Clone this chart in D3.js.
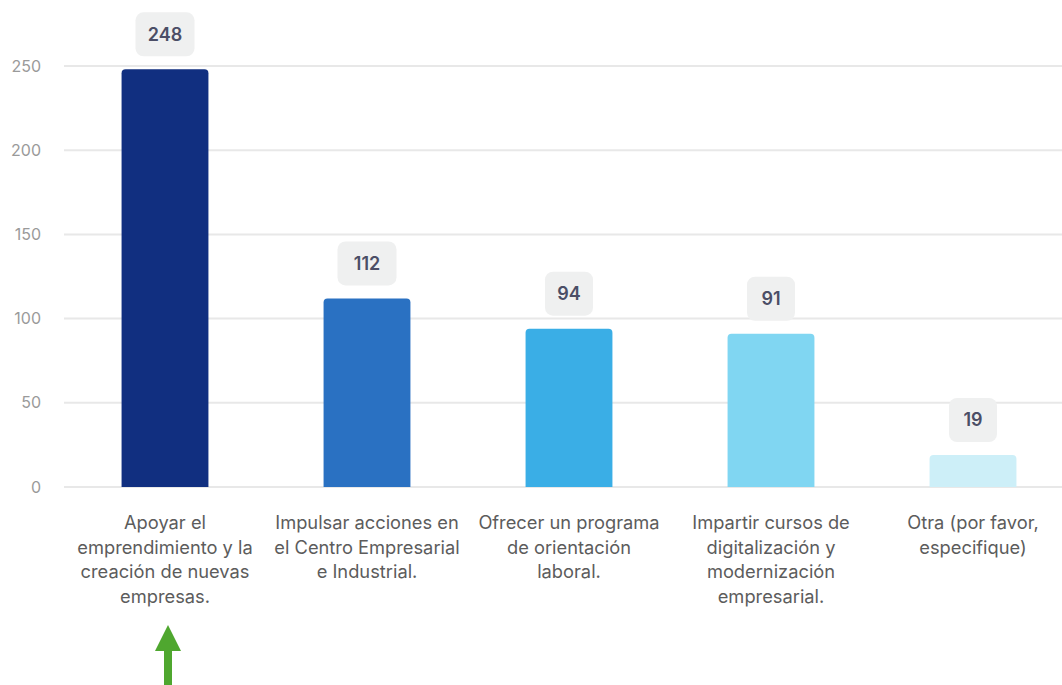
<!DOCTYPE html>
<html><head><meta charset="utf-8">
<script src="https://cdn.jsdelivr.net/npm/d3@7"></script>
<style>body{margin:0;background:#fff;}svg{display:block;font-family:Inter, "Noto Sans", sans-serif;}</style>
</head><body>
<svg id="c" width="1062" height="685"></svg>
<script>
const categories = ["Apoyar el emprendimiento y la creación de nuevas empresas.","Impulsar acciones en el Centro Empresarial e Industrial.","Ofrecer un programa de orientación laboral.","Impartir cursos de digitalización y modernización empresarial.","Otra (por favor, especifique)"];
const labelLines = [["Apoyar el","emprendimiento y la","creación de nuevas","empresas."],["Impulsar acciones en","el Centro Empresarial","e Industrial."],["Ofrecer un programa","de orientación","laboral."],["Impartir cursos de","digitalización y","modernización","empresarial."],["Otra (por favor,","especifique)"]];
const values = [248,112,94,91,19];
const colors = ["#112f80","#2a71c2","#3aaee6","#80d6f2","#cdeff8"];
const yTicks = [0,50,100,150,200,250];

const svg = d3.select("#c");
const x = d3.scaleBand().domain(categories).range([64,1074]).paddingInner(0.57).paddingOuter(0.285);
const y = d3.scaleLinear().domain([0,250]).range([487,66]);

// grid
svg.append("g").selectAll("line").data(yTicks).join("line")
  .attr("x1",64).attr("x2",1062).attr("y1",d=>y(d)).attr("y2",d=>y(d))
  .attr("stroke","#e8e8e8").attr("stroke-width",2);
svg.append("g").selectAll("text").data(yTicks).join("text")
  .attr("x",41).attr("y",d=>y(d)).attr("dy","0.35em").attr("text-anchor","end")
  .attr("fill","#9a9a9a").attr("font-size",16).text(d=>d);

// bars with rounded top
const r = 4;
svg.append("g").selectAll("path").data(values).join("path")
  .attr("fill",(d,i)=>colors[i])
  .attr("d",(d,i)=>{
    const x0 = x(categories[i]), w = x.bandwidth(), y0 = y(d), y1 = y(0);
    return `M${x0},${y1}V${y0+r}Q${x0},${y0} ${x0+r},${y0}H${x0+w-r}Q${x0+w},${y0} ${x0+w},${y0+r}V${y1}Z`;
  });

// value boxes
const lg = svg.append("g");
values.forEach((d,i)=>{
  const cx = x(categories[i]) + x.bandwidth()/2;
  const bw = d>=100?59:48, bh = 44;
  const bottom = y(d) - 13;
  lg.append("rect").attr("x",cx-bw/2).attr("y",bottom-bh).attr("width",bw).attr("height",bh)
    .attr("rx",8).attr("fill","#eff0f0");
  lg.append("text").attr("x",cx).attr("y",bottom-bh/2).attr("dy","0.36em").attr("text-anchor","middle")
    .attr("fill","#4b4e66").attr("font-size",18).attr("font-weight",600).text(d);
});

// category labels
const cl = svg.append("g");
labelLines.forEach((lines,i)=>{
  const cx = x(categories[i]) + x.bandwidth()/2;
  const t = cl.append("text").attr("text-anchor","middle").attr("fill","#5c5c5c").attr("font-size",18.3);
  lines.forEach((ln,j)=>{
    t.append("tspan").attr("x",cx).attr("y",529+j*24.5).text(ln);
  });
});

// green arrow
const ax = x(categories[0]) + x.bandwidth()/2 + 3;
svg.append("path").attr("fill","#4fa72f")
  .attr("d",`M${ax},625 L${ax+13},651 L${ax+4},651 L${ax+4},685 L${ax-4},685 L${ax-4},651 L${ax-13},651 Z`);
</script>
</body></html>
